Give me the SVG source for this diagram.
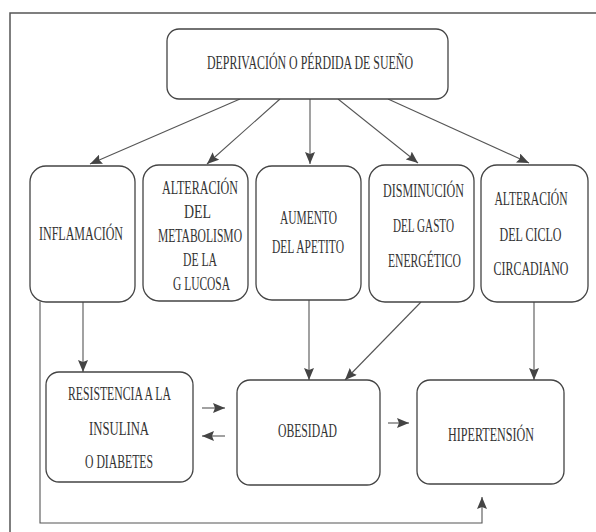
<svg xmlns="http://www.w3.org/2000/svg" width="596" height="532" viewBox="0 0 596 532">
<defs>
<marker id="ah" markerUnits="userSpaceOnUse" markerWidth="12" markerHeight="10" refX="12" refY="5" orient="auto">
<path d="M0,0 L12,5 L0,10 L2,5 z" fill="#444"/>
</marker>
<style>
.box{fill:#fff;stroke:#444;stroke-width:1.3}
.t{font-family:"Liberation Serif",serif;font-size:19.5px;fill:#333;text-anchor:middle}
.tt{font-size:18.5px}
.c{fill:none;stroke:#555;stroke-width:1.1;marker-end:url(#ah)}
.frame{fill:none;stroke:#555;stroke-width:1.5}
</style>
</defs>
<rect width="596" height="532" fill="#fff"/>
<path class="frame" d="M10,532 V13 H596"/>
<g id="connectors">
<line class="c" x1="240" y1="99" x2="90" y2="164"/>
<line class="c" x1="280" y1="99" x2="207" y2="164"/>
<line class="c" x1="310" y1="99" x2="310" y2="164"/>
<line class="c" x1="338" y1="99" x2="418" y2="163"/>
<line class="c" x1="388" y1="99" x2="529" y2="163"/>
<line class="c" x1="83" y1="302" x2="83" y2="372"/>
<line class="c" x1="309" y1="300" x2="309" y2="380"/>
<line class="c" x1="421" y1="302" x2="345" y2="380"/>
<line class="c" x1="534" y1="302" x2="534" y2="380"/>
<line class="c" x1="202" y1="408" x2="225" y2="408"/>
<line class="c" x1="225" y1="436" x2="202" y2="436"/>
<line class="c" x1="388" y1="423" x2="409" y2="423"/>
<polyline class="c" points="40,302 40,523 482,523 482,497"/>
</g>
<g id="n-deprivacion">
<rect class="box" x="167" y="29" width="281" height="70" rx="12"/>
<text class="t tt" x="310" y="69" textLength="206" lengthAdjust="spacingAndGlyphs">DEPRIVACIÓN O PÉRDIDA DE SUEÑO</text>
</g>
<g id="n-inflamacion">
<rect class="box" x="30" y="166" width="105" height="136" rx="16"/>
<text class="t" x="81" y="240" textLength="84" lengthAdjust="spacingAndGlyphs">INFLAMACIÓN</text>
</g>
<g id="n-glucosa">
<rect class="box" x="143" y="165" width="105" height="136" rx="16"/>
<text class="t" x="200" y="194" textLength="76" lengthAdjust="spacingAndGlyphs">ALTERACIÓN</text>
<text class="t" x="197.5" y="218" textLength="27" lengthAdjust="spacingAndGlyphs">DEL</text>
<text class="t" x="200" y="242" textLength="84" lengthAdjust="spacingAndGlyphs">METABOLISMO</text>
<text class="t" x="200" y="266" textLength="34" lengthAdjust="spacingAndGlyphs">DE LA</text>
<text class="t" x="201.5" y="290" textLength="57" lengthAdjust="spacingAndGlyphs">G LUCOSA</text>
</g>
<g id="n-apetito">
<rect class="box" x="256" y="166" width="105" height="134" rx="16"/>
<text class="t" x="308.5" y="224" textLength="57" lengthAdjust="spacingAndGlyphs">AUMENTO</text>
<text class="t" x="308" y="253" textLength="72" lengthAdjust="spacingAndGlyphs">DEL APETITO</text>
</g>
<g id="n-gasto">
<rect class="box" x="369" y="165" width="105" height="137" rx="16"/>
<text class="t" x="423.5" y="197" textLength="81" lengthAdjust="spacingAndGlyphs">DISMINUCIÓN</text>
<text class="t" x="423.5" y="232" textLength="61" lengthAdjust="spacingAndGlyphs">DEL GASTO</text>
<text class="t" x="424.5" y="267" textLength="73" lengthAdjust="spacingAndGlyphs">ENERGÉTICO</text>
</g>
<g id="n-circadiano">
<rect class="box" x="481" y="165" width="107" height="137" rx="16"/>
<text class="t" x="531" y="205" textLength="73" lengthAdjust="spacingAndGlyphs">ALTERACIÓN</text>
<text class="t" x="530.5" y="241" textLength="62" lengthAdjust="spacingAndGlyphs">DEL CICLO</text>
<text class="t" x="531" y="275" textLength="75" lengthAdjust="spacingAndGlyphs">CIRCADIANO</text>
</g>
<g id="n-resistencia">
<rect class="box" x="46" y="372" width="147" height="110" rx="13"/>
<text class="t" x="119.5" y="400" textLength="103" lengthAdjust="spacingAndGlyphs">RESISTENCIA A LA</text>
<text class="t" x="119" y="435" textLength="60" lengthAdjust="spacingAndGlyphs">INSULINA</text>
<text class="t" x="119" y="468" textLength="68" lengthAdjust="spacingAndGlyphs">O DIABETES</text>
</g>
<g id="n-obesidad">
<rect class="box" x="237" y="380" width="143" height="105" rx="13"/>
<text class="t" x="307.5" y="437" textLength="59" lengthAdjust="spacingAndGlyphs">OBESIDAD</text>
</g>
<g id="n-hipertension">
<rect class="box" x="417" y="380" width="147" height="104" rx="13"/>
<text class="t" x="491" y="441" textLength="86" lengthAdjust="spacingAndGlyphs">HIPERTENSIÓN</text>
</g>
</svg>
